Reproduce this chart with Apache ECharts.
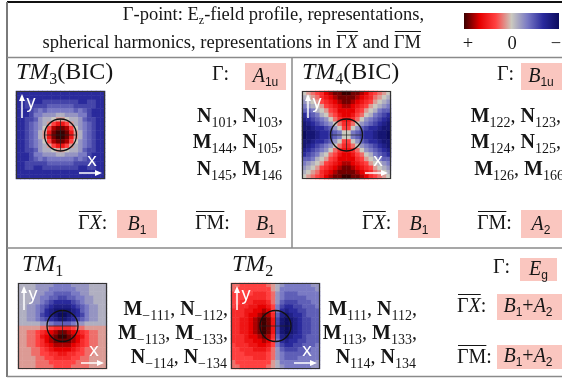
<!DOCTYPE html>
<html>
<head>
<meta charset="utf-8">
<script src="https://cdn.jsdelivr.net/npm/echarts@6/dist/echarts.min.js"></script>
<style>
  html, body { margin: 0; padding: 0; background: #ffffff; }
  #chart { width: 562px; height: 378px; }
</style>
</head>
<body>
<div id="chart"></div>
<script>
// E_z field levels sampled on a 20x20 raster over one unit cell (rows top to bottom).
// '0'..'9' = 0..+9 (red side), 'a'..'i' = -1..-9 (blue side).
const tm3Rows = [
  'ffffffffffffffffffff',
  'ffffffffffffffffffff',
  'ffeeffeeeeeeeeffeeff',
  'ffeeeeeddddddeeeeeff',
  'fffedcdccccccdcdefff',
  'fffeccbbbaabbbccefff',
  'ffeedbaa0110aabdeeff',
  'ffedcba135531abcdeff',
  'ffedcb03788730bcdeff',
  'ffedca15899851acdeff',
  'ffedca15899851acdeff',
  'ffedcb03788730bcdeff',
  'ffedcba135531abcdeff',
  'ffeedbaa0110aabdeeff',
  'fffeccbbbaabbbccefff',
  'fffedcdccccccdcdefff',
  'ffeeeeeddddddeeeeeff',
  'ffeeffeeeeeeeeffeeff',
  'ffffffffffffffffffff',
  'ffffffffffffffffffff'
];
const tm4Rows = [
  '01234678899887643210',
  'a012456788887654210a',
  'ba0134567887654310ab',
  'cba01345677654310abc',
  'ddca013466664310acdd',
  'fedca0235665320acdef',
  'gfedcb02455420bcdefg',
  'hgfedcb024420bcdefgh',
  'hhgffedb0330bdeffghh',
  'ihhgffedc00cdeffghhi',
  'ihhgffedc00cdeffghhi',
  'hhgffedb0330bdeffghh',
  'hgfedcb024420bcdefgh',
  'gfedcb02455420bcdefg',
  'fedca0235665320acdef',
  'ddca013466664310acdd',
  'cba01345677654310abc',
  'ba0134567887654310ab',
  'a012456788887654210a',
  '01234678899887643210'
];
const tm1Rows = [
  'aaaabbbbccccbbbbaaaa',
  'aaaabbbccccccbbbaaaa',
  'aaaabbccddddccbbaaaa',
  'aaabbccddeeddccbbaaa',
  'aaabbcdeffffedcbbaaa',
  'aabbcdefggggfedcbbaa',
  'aabbcdfghhhhgfdcbbaa',
  'aabbcefghiihgfecbbaa',
  'aabbcdefghhgfedcbbaa',
  'aaaaabbcddddcbbaaaaa',
  '11111223444432211111',
  '11223456788765432211',
  '11223567899876532211',
  '11223467888876432211',
  '11223456777765432211',
  '11122345666654322111',
  '11122334455443322111',
  '11112233444433221111',
  '11112223333332221111',
  '11112222333322221111'
];
const tm2Rows = [
  '2233333321abccccccbb',
  '2333333331accccccccb',
  '3333344432bcdddccccc',
  '3334444432bcdddddccc',
  '3344455542bdeeedddcc',
  '3444556653ceffeedddc',
  '4445566763cfgffeeddd',
  '4445667874dghgffeddd',
  '4455678985ehihgfeedd',
  '4455678985ehihgfeedd',
  '4455678985ehihgfeedd',
  '4455678985ehihgfeedd',
  '4445667874dghgffeddd',
  '4445566763cfgffeeddd',
  '3444556653ceffeedddc',
  '3344455542bdeeedddcc',
  '3334444432bcdddddccc',
  '3333344432bcdddccccc',
  '2333333331accccccccb',
  '2233333321abccccccbb'
];
const fieldMin = -9;
const fieldMax = 9;
const colorbarTicks = ['+', '0', '−'];

// Colour ramp from the negative (blue) end to the positive (red) end.
const fieldColors = ['#0c0c5e', '#2a2a9c', '#7a7ac4', '#cbc9bf', '#ff4040', '#e60000', '#3a0000'];

const SERIF = '"Liberation Serif", "Times New Roman", serif';
const SANS = '"Liberation Sans", Arial, sans-serif';
const INK = '#161616';

function decodeLevel(ch) {
  if (ch >= '0' && ch <= '9') return +ch;
  return -(ch.charCodeAt(0) - 96);
}
function toCells(rows) {
  const out = [];
  rows.forEach((row, j) => {
    for (let i = 0; i < row.length; i++) out.push([i, j, decodeLevel(row[i])]);
  });
  return out;
}

const fieldRows = [tm3Rows, tm4Rows, tm1Rows, tm2Rows];
const panelBoxes = [
  { left: 16, top: 91, width: 89, height: 88, r: 16 },
  { left: 302, top: 91, width: 89, height: 88, r: 16 },
  { left: 18, top: 283, width: 89, height: 86, r: 15.5 },
  { left: 231, top: 283, width: 89, height: 86, r: 15.5 }
];
const cellIndex = tm3Rows.map((_, i) => i);

// ---------- text helpers ----------
const RICH = {
  rm: { fontFamily: SERIF, fontSize: 18.5, fill: INK, lineHeight: 24, verticalAlign: 'middle' },
  it: { fontFamily: SERIF, fontSize: 18.5, fontStyle: 'italic', fill: INK, lineHeight: 24, verticalAlign: 'middle' },
  zs: { fontFamily: SERIF, fontSize: 12, fill: INK, lineHeight: 12, verticalAlign: 'bottom' },
  lab: { fontFamily: SERIF, fontSize: 20, fill: INK, lineHeight: 26, verticalAlign: 'middle' },
  labit: { fontFamily: SERIF, fontSize: 20, fontStyle: 'italic', fill: INK, lineHeight: 26, verticalAlign: 'middle' },
  big: { fontFamily: SERIF, fontSize: 24, fill: INK, lineHeight: 30, verticalAlign: 'middle' },
  bigit: { fontFamily: SERIF, fontSize: 24, fontStyle: 'italic', fill: INK, lineHeight: 30, verticalAlign: 'middle' },
  bigsub: { fontFamily: SERIF, fontSize: 16, fill: INK, lineHeight: 18, verticalAlign: 'bottom' },
  bf: { fontFamily: SERIF, fontSize: 20, fontWeight: 'bold', fill: INK, lineHeight: 26, verticalAlign: 'middle' },
  cm: { fontFamily: SERIF, fontSize: 20, fill: INK, lineHeight: 26, verticalAlign: 'middle' },
  sub: { fontFamily: SERIF, fontSize: 14, fill: INK, lineHeight: 16, verticalAlign: 'bottom' },
  rep: { fontFamily: SERIF, fontSize: 20, fontStyle: 'italic', fill: INK, lineHeight: 24, verticalAlign: 'middle' },
  repr: { fontFamily: SERIF, fontSize: 20, fill: INK, lineHeight: 24, verticalAlign: 'middle' },
  repsub: { fontFamily: SANS, fontSize: 12, fill: INK, lineHeight: 18, verticalAlign: 'bottom' }
};

const measureCtx = document.createElement('canvas').getContext('2d');
function segWidth(st, text) {
  measureCtx.font = (st.fontStyle || 'normal') + ' ' + (st.fontWeight || 'normal') + ' ' + st.fontSize + 'px ' + st.fontFamily;
  return measureCtx.measureText(text).width;
}

const G = [];
function line(x1, y1, x2, y2, stroke, w, z) {
  G.push({ type: 'line', silent: true, z: z || 50, shape: { x1, y1, x2, y2 }, style: { stroke, lineWidth: w } });
}
function box(x, y, w, h, fill) {
  G.push({ type: 'rect', silent: true, z: 40, shape: { x, y, width: w, height: h }, style: { fill } });
}
function label(x, y, align, parts, overGroups) {
  const widths = parts.map(p => segWidth(RICH[p[0]], p[1]));
  const total = widths.reduce((a, b) => a + b, 0);
  const x0 = align === 'left' ? x : align === 'right' ? x - total : x - total / 2;
  G.push({
    type: 'text', silent: true, z: 60,
    style: {
      x, y, text: parts.map(p => '{' + p[0] + '|' + p[1] + '}').join(''),
      rich: RICH, textAlign: align, textVerticalAlign: 'middle'
    }
  });
  (overGroups || []).forEach(grp => {
    let cx = x0, s = null, e = null, fs = 0;
    parts.forEach((p, k) => {
      if (grp.includes(k)) {
        if (s === null) s = cx;
        e = cx + widths[k];
        fs = Math.max(fs, RICH[p[0]].fontSize);
      }
      cx += widths[k];
    });
    const oy = Math.round(y - 0.66 * fs) + 0.5;
    line(s + 1, oy, e, oy, INK, 1, 60);
  });
}

// ---------- table frame ----------
line(7, 2, 562, 2, '#111', 2);
line(7, 2, 7, 377, '#7a7a7a', 2);
line(7, 57.5, 562, 57.5, '#8a8a8a', 1.5);
line(7, 248, 562, 248, '#8a8a8a', 1.5);
line(7, 376.5, 562, 376.5, '#8a8a8a', 1.5);
line(292, 57, 292, 248, '#8a8a8a', 1.5);

// ---------- header ----------
label(424, 15, 'right', [['rm', 'Γ-point: E'], ['zs', 'z'], ['rm', '-field profile, representations,']]);
label(421, 43, 'right', [['rm', 'spherical harmonics, representations in '], ['rm', 'Γ'], ['it', 'X'], ['rm', ' and '], ['rm', 'Γ'], ['rm', 'M']], [[1, 2], [4, 5]]);

// colour bar: same ramp as the field panels, positive end on the left
const barStops = fieldColors.slice().reverse().map((c, k, arr) => ({ offset: k / (arr.length - 1), color: c }));
G.push({
  type: 'rect', silent: true, z: 45,
  shape: { x: 464, y: 13, width: 95, height: 16 },
  style: { fill: { type: 'linear', x: 0, y: 0, x2: 1, y2: 0, colorStops: barStops } }
});
const tickX = [468, 512, 556];
colorbarTicks.forEach((t, k) => label(tickX[k], 44, 'center', [['rm', t]]));

// ---------- field panels: frame, unit-cell circle, axes glyphs ----------
panelBoxes.forEach(b => {
  const cx = b.left + b.width / 2, cy = b.top + b.height / 2;
  G.push({ type: 'rect', silent: true, z: 55, shape: { x: b.left + 0.5, y: b.top + 0.5, width: b.width - 1, height: b.height - 1 }, style: { fill: null, stroke: '#333', lineWidth: 1.2 } });
  G.push({ type: 'circle', silent: true, z: 56, shape: { cx, cy, r: b.r }, style: { fill: null, stroke: '#111', lineWidth: 1.3 } });
  line(cx - b.r, cy, cx + b.r, cy, '#222', 0.7, 56);
  line(cx, cy - b.r, cx, cy + b.r, '#222', 0.7, 56);
  // y axis glyph
  const ax = b.left + 6;
  line(ax, b.top + 27, ax, b.top + 8, '#fff', 1.5, 57);
  G.push({ type: 'polygon', silent: true, z: 57, shape: { points: [[ax, b.top + 3], [ax - 3, b.top + 10], [ax + 3, b.top + 10]] }, style: { fill: '#fff' } });
  G.push({ type: 'text', silent: true, z: 57, style: { x: b.left + 15, y: b.top + 12, text: 'y', fill: '#fff', fontFamily: SANS, fontSize: 18, textAlign: 'center', textVerticalAlign: 'middle' } });
  // x axis glyph
  const ay = b.top + b.height - 6;
  const rx = b.left + b.width;
  line(rx - 26, ay, rx - 8, ay, '#fff', 1.5, 57);
  G.push({ type: 'polygon', silent: true, z: 57, shape: { points: [[rx - 3, ay], [rx - 10, ay - 3], [rx - 10, ay + 3]] }, style: { fill: '#fff' } });
  G.push({ type: 'text', silent: true, z: 57, style: { x: rx - 13, y: b.top + b.height - 18, text: 'x', fill: '#fff', fontFamily: SANS, fontSize: 19, textAlign: 'center', textVerticalAlign: 'middle' } });
});

// ---------- representation boxes ----------
const PINK = '#fac6bf';
box(245, 63, 41, 27, PINK);
box(117, 210, 40, 28, PINK);
box(245, 210, 41, 28, PINK);
box(521, 63, 45, 27, PINK);
box(398, 210, 42, 28, PINK);
box(521, 210, 45, 28, PINK);
box(520, 258, 37, 23, PINK);
box(497, 294, 66, 26, PINK);
box(497, 345, 66, 24, PINK);

// ---------- row 1, left cell ----------
label(16, 73, 'left', [['bigit', 'TM'], ['bigsub', '3'], ['big', '(BIC)']]);
label(212, 75, 'left', [['lab', 'Γ:']]);
label(265.5, 77, 'center', [['rep', 'A'], ['repsub', '1u']]);
label(283, 117, 'right', [['bf', 'N'], ['sub', '101'], ['cm', ', '], ['bf', 'N'], ['sub', '103'], ['cm', ',']]);
label(283, 143, 'right', [['bf', 'M'], ['sub', '144'], ['cm', ', '], ['bf', 'N'], ['sub', '105'], ['cm', ',']]);
label(282, 170, 'right', [['bf', 'N'], ['sub', '145'], ['cm', ', '], ['bf', 'M'], ['sub', '146']]);
label(78, 224, 'left', [['lab', 'Γ'], ['labit', 'X'], ['lab', ':']], [[0, 1]]);
label(137, 225, 'center', [['rep', 'B'], ['repsub', '1']]);
label(195, 224, 'left', [['lab', 'Γ'], ['lab', 'M'], ['lab', ':']], [[0, 1]]);
label(265.5, 225, 'center', [['rep', 'B'], ['repsub', '1']]);

// ---------- row 1, right cell ----------
label(302, 73, 'left', [['bigit', 'TM'], ['bigsub', '4'], ['big', '(BIC)']]);
label(497, 75, 'left', [['lab', 'Γ:']]);
label(541, 77, 'center', [['rep', 'B'], ['repsub', '1u']]);
label(561, 117, 'right', [['bf', 'M'], ['sub', '122'], ['cm', ', '], ['bf', 'N'], ['sub', '123'], ['cm', ',']]);
label(561, 143, 'right', [['bf', 'M'], ['sub', '124'], ['cm', ', '], ['bf', 'N'], ['sub', '125'], ['cm', ',']]);
label(564, 170, 'right', [['bf', 'M'], ['sub', '126'], ['cm', ', '], ['bf', 'M'], ['sub', '166']]);
label(362, 224, 'left', [['lab', 'Γ'], ['labit', 'X'], ['lab', ':']], [[0, 1]]);
label(419, 225, 'center', [['rep', 'B'], ['repsub', '1']]);
label(477, 224, 'left', [['lab', 'Γ'], ['lab', 'M'], ['lab', ':']], [[0, 1]]);
label(541, 225, 'center', [['rep', 'A'], ['repsub', '2']]);

// ---------- row 2 ----------
label(22, 265, 'left', [['bigit', 'TM'], ['bigsub', '1']]);
label(232, 265, 'left', [['bigit', 'TM'], ['bigsub', '2']]);
label(228, 310, 'right', [['bf', 'M'], ['sub', '−111'], ['cm', ', '], ['bf', 'N'], ['sub', '−112'], ['cm', ',']]);
label(228, 334, 'right', [['bf', 'M'], ['sub', '−113'], ['cm', ', '], ['bf', 'M'], ['sub', '−133'], ['cm', ',']]);
label(227, 358, 'right', [['bf', 'N'], ['sub', '−114'], ['cm', ', '], ['bf', 'N'], ['sub', '−134']]);
label(417, 310, 'right', [['bf', 'M'], ['sub', '111'], ['cm', ', '], ['bf', 'N'], ['sub', '112'], ['cm', ',']]);
label(417, 334, 'right', [['bf', 'M'], ['sub', '113'], ['cm', ', '], ['bf', 'M'], ['sub', '133'], ['cm', ',']]);
label(416, 358, 'right', [['bf', 'N'], ['sub', '114'], ['cm', ', '], ['bf', 'N'], ['sub', '134']]);
label(493, 268, 'left', [['lab', 'Γ:']]);
label(538.5, 270, 'center', [['rep', 'E'], ['repsub', 'g']]);
label(457, 307, 'left', [['lab', 'Γ'], ['labit', 'X'], ['lab', ':']], [[0, 1]]);
label(528, 307, 'center', [['rep', 'B'], ['repsub', '1'], ['repr', '+'], ['rep', 'A'], ['repsub', '2']]);
label(457, 358, 'left', [['lab', 'Γ'], ['lab', 'M'], ['lab', ':']], [[0, 1]]);
label(528, 357, 'center', [['rep', 'B'], ['repsub', '1'], ['repr', '+'], ['rep', 'A'], ['repsub', '2']]);

// ---------- chart ----------
const chart = echarts.init(document.getElementById('chart'), null, { renderer: 'canvas' });
chart.setOption({
  animation: false,
  backgroundColor: '#ffffff',
  grid: panelBoxes.map(b => ({ left: b.left, top: b.top, width: b.width, height: b.height, containLabel: false })),
  xAxis: panelBoxes.map((b, k) => ({ type: 'category', gridIndex: k, data: cellIndex, show: false })),
  yAxis: panelBoxes.map((b, k) => ({ type: 'category', gridIndex: k, data: cellIndex, show: false, inverse: true })),
  visualMap: {
    type: 'continuous',
    show: false,
    min: fieldMin,
    max: fieldMax,
    seriesIndex: [0, 1, 2, 3],
    inRange: { color: fieldColors }
  },
  series: fieldRows.map((rows, k) => ({
    type: 'heatmap',
    xAxisIndex: k,
    yAxisIndex: k,
    data: toCells(rows),
    silent: true,
    itemStyle: { borderWidth: 0 },
    emphasis: { disabled: true }
  })),
  graphic: { elements: G }
});
</script>
</body>
</html>
